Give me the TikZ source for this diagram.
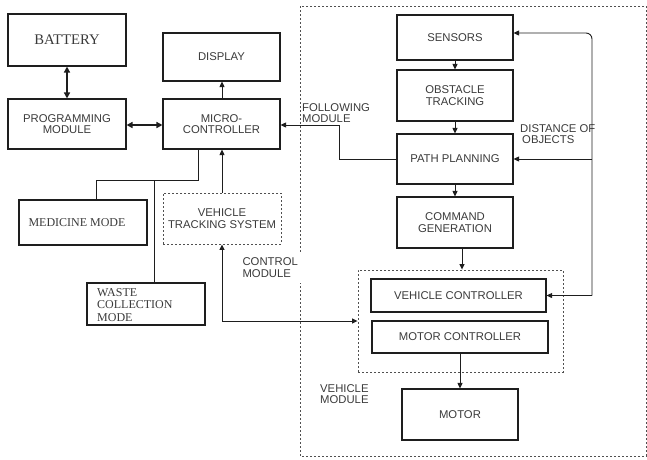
\documentclass[tikz,border=0pt]{standalone}
\usepackage{fontspec}
\setmainfont{Liberation Serif}
\setsansfont{Liberation Sans}
\usetikzlibrary{arrows.meta}
\definecolor{txt}{HTML}{3A3A3A}
\definecolor{ln}{HTML}{1E1E1E}
\definecolor{dsh}{HTML}{505050}
\begin{document}
\begin{tikzpicture}[x=1pt,y=-1pt,
  sansf/.style={font=\sffamily\fontsize{11.3}{11.6}\selectfont},
  seriff/.style={font=\rmfamily\fontsize{12}{12.7}\selectfont},
  box/.style={draw=ln, line width=1.1pt, inner sep=0pt, align=center, text=txt, sansf},
  sbox/.style={box, seriff},
  dbox/.style={draw=dsh, line width=0.9pt, dash pattern=on 2pt off 2pt},
  lbl/.style={text=txt, sansf, align=left, inner sep=0pt},
  con/.style={draw=ln, line width=0.9pt},
  arr/.style={con, -{Triangle[length=5.5pt,width=5pt]}},
  darr/.style={con, {Triangle[length=5.5pt,width=5pt]}-{Triangle[length=5.5pt,width=5pt]}},
  thick2/.style={draw=ln, line width=1.6pt, {Triangle[length=6pt,width=6pt]}-{Triangle[length=6pt,width=6pt]}}
]
\useasboundingbox (0,0) rectangle (647,459);

% outer dashed region
\draw[dbox] (300,6) rectangle (646,456);

% left side boxes
\node[sbox, font=\rmfamily\fontsize{14.7}{15}\selectfont, minimum width=118pt, minimum height=52pt] (bat) at (67,40) {BATTERY};
\node[box, minimum width=118pt, minimum height=50pt] (prog) at (67,124) {PROGRAMMING\\MODULE};
\node[box, minimum width=117pt, minimum height=48pt] (disp) at (221.5,57) {DISPLAY};
\node[box, minimum width=117pt, minimum height=50pt] (micro) at (221.5,124) {MICRO-\\CONTROLLER};
\node[sbox, minimum width=128pt, minimum height=45pt] (med) at (83,222.5) {\hspace*{-12pt}MEDICINE MODE};
\node[box, dbox, text=txt, minimum width=118pt, minimum height=51pt] (vts) at (222,218.5) {VEHICLE\\TRACKING SYSTEM};
\node[sbox, minimum width=118pt, minimum height=42pt] (waste) at (146,304) {};
\node[seriff, text=txt, align=left, inner sep=0pt, anchor=north west] (wastetxt) at (97,288) {WASTE\\COLLECTION\\MODE};

% right side boxes
\node[box, minimum width=116pt, minimum height=45pt] (sens) at (455,37.5) {SENSORS};
\node[box, minimum width=116pt, minimum height=51pt] (obst) at (455,95.5) {OBSTACLE\\TRACKING};
\node[box, minimum width=116pt, minimum height=50pt] (path) at (455,159) {PATH PLANNING};
\node[box, minimum width=116pt, minimum height=51pt] (cmd) at (455,222.5) {COMMAND\\GENERATION};
\node[dbox, minimum width=205pt, minimum height=102pt, inner sep=0pt] (vmod) at (460.5,321) {};
\node[box, minimum width=175pt, minimum height=33pt] (vc) at (458.5,295.5) {VEHICLE CONTROLLER};
\node[box, minimum width=176pt, minimum height=32pt] (mc) at (460,337) {MOTOR CONTROLLER};
\node[box, minimum width=116pt, minimum height=51pt] (motor) at (460,414.5) {MOTOR};

% labels
\node[lbl, anchor=west, fill=white, inner ysep=6pt, minimum width=68pt] (ctl) at (236,267.5) {CONTROL\\MODULE};
\node[lbl, anchor=west] (fol) at (302,113) {FOLLOWING\\MODULE};
\node[lbl, anchor=west] (dist) at (520,134) {DISTANCE OF\\\hspace*{2pt}OBJECTS};
\node[lbl, anchor=west] (vml) at (320,394) {VEHICLE\\MODULE};

% connectors left
\draw[thick2] (bat.south) -- (prog.north);
\draw[thick2] (prog.east |- 0,125) -- (micro.west |- 0,125);
\draw[arr] (micro.north -| 222,0) -- (disp.south -| 222,0);
\draw[arr] (vts.north) -- (micro.south -| 222,0);
\coordinate (mb) at (198,149);
\coordinate (mj) at (198,180);
\draw[con] (mb) -- (mj) -| (med.north -| 96,0);
\draw[con] (154,180) -- (waste.north -| 154,0);

% following module
\coordinate (f1) at (339,159);
\coordinate (f2) at (339,125);
\draw[arr] (path.west) -- (f1) -- (f2) -- (micro.east |- f2);

% control module
\coordinate (c1) at (222,321);
\draw[darr] (vts.south) -- (c1) -- (vmod.west |- c1);

% right chain
\draw[arr] (sens.south) -- (obst.north);
\draw[arr] (obst.south) -- (path.north);
\draw[arr] (path.south) -- (cmd.north);
\draw[arr] (cmd.south -| 462,0) -- (vmod.north -| 462,0);
\draw[arr] (mc.south) -- (motor.north);

% feedback
\coordinate (r1) at (592,295.5);
\coordinate (r2) at (592,33);
\coordinate (r3) at (592,159);
\draw[arr, rounded corners=6pt] (r1) -- (r2) -- (sens.east |- r2);
\draw[arr] (r3) -- (path.east);
\draw[arr] (r1) -- (vc.east);
\end{tikzpicture}
\end{document}
